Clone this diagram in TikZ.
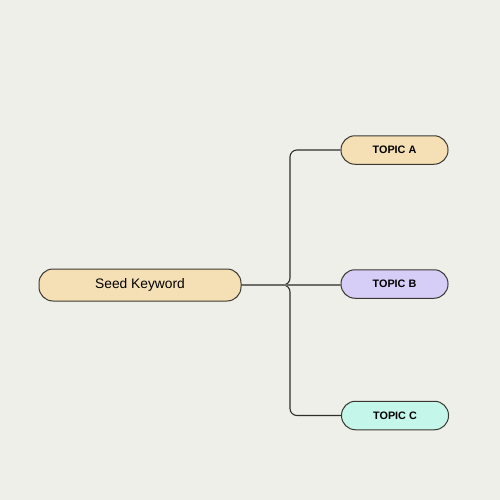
\documentclass[tikz,border=0pt]{standalone}
\usepackage{fontspec}
\setmainfont{Liberation Sans}
\usetikzlibrary{calc}
\definecolor{bg}{HTML}{EFEFEA}
\definecolor{sand}{HTML}{F5E0B6}
\definecolor{lav}{HTML}{D6CEF6}
\definecolor{mint}{HTML}{C4F6E9}
\definecolor{edge}{HTML}{3A3830}
\definecolor{wire}{HTML}{2E2E2A}
\tikzset{
  pill/.style={draw=edge, line width=1pt, rounded corners=14pt, inner sep=0pt, align=center},
  seedbox/.style={pill, fill=sand, minimum width=202pt, minimum height=32pt, font=\fontsize{13.8}{16}\selectfont},
  topicbox/.style={pill, minimum width=107pt, minimum height=28.5pt, font=\bfseries\fontsize{10.8}{13}\selectfont},
  wireline/.style={draw=wire, line width=1.1pt, rounded corners=7pt}
}
\begin{document}
\begin{tikzpicture}[x=1pt,y=-1pt]
\fill[bg] (0,0) rectangle (500,500);
\useasboundingbox (0,0) rectangle (500,500);
\node[seedbox] (seed) at (140,285) {Seed Keyword};
\node[topicbox, fill=sand] (A) at (394.5,150) {TOPIC A};
\node[topicbox, fill=lav] (B) at (394.5,284) {TOPIC B};
\node[topicbox, fill=mint] (C) at (395,415.5) {TOPIC C};
\coordinate (jx) at (290,0);
\draw[wireline] (seed.east) -| (jx |- A.west) -- (A.west);
\draw[wireline] (seed.east) -| (jx |- C.west) -- (C.west);
\draw[wireline, draw=wire!70] (seed.east) -- (seed.east -| B.west);
\end{tikzpicture}
\end{document}
